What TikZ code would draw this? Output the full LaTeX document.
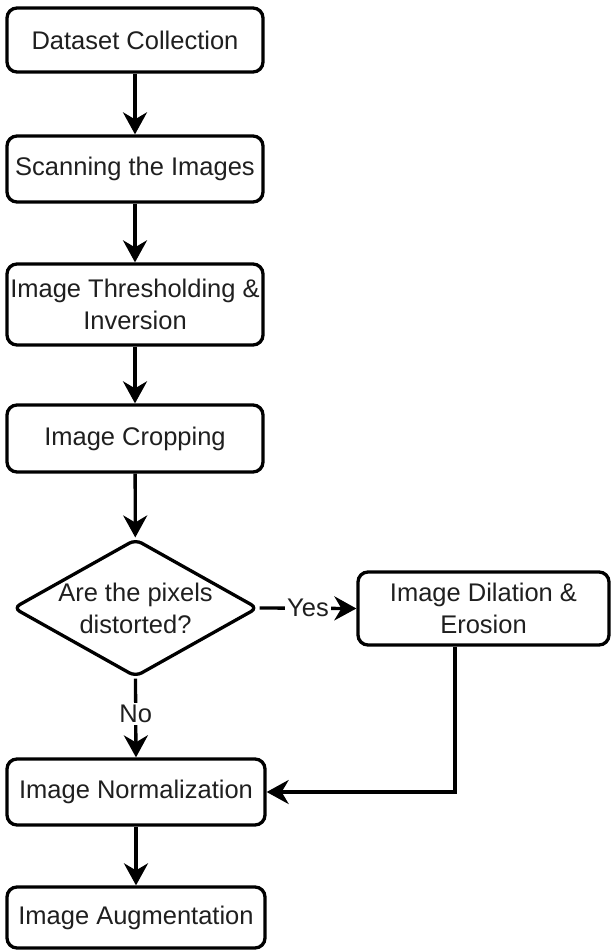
\documentclass[tikz,border=0pt]{standalone}
\usepackage{fontspec}
\setmainfont{Liberation Sans}
\usetikzlibrary{shapes.geometric,arrows.meta}

\begin{document}
\begin{tikzpicture}[x=1pt,y=-1pt,
  every node/.style={font=\fontsize{25.5}{32}\selectfont, text=black!88, align=center, inner sep=0pt},
  procbox/.style={draw, line width=3.3pt, rounded corners=10pt, minimum width=256pt},
  decision/.style={draw, line width=3.3pt, diamond, rounded corners=7pt, minimum width=245pt, minimum height=138pt},
  arr/.style={line width=3.3pt, -{Stealth[length=22pt,width=24pt,inset=7pt]}},
  lbl/.style={fill=white, inner sep=2pt}
]
\useasboundingbox (0,0) rectangle (612,950);

% main column of processing steps
\node[procbox, minimum height=64pt] (collect) at (135,40) {Dataset Collection};
\node[procbox, minimum height=66pt] (scan) at (135,169) {Scanning the Images};
\node[procbox, minimum height=81pt] (thresh) at (135,304.5) {Image Thresholding \&\\Inversion};
\node[procbox, minimum height=67pt] (crop) at (135,438.5) {Image Cropping};
\node[decision] (check) at (135.5,608) {};
\node (checktext) at (check) {Are the pixels\\distorted?};
\node[procbox, minimum width=251pt, minimum height=73pt] (dilate) at (483.5,608.5) {Image Dilation \&\\Erosion};
\node[procbox, minimum width=258pt, minimum height=66pt] (norm) at (136,792) {Image Normalization};
\node[procbox, minimum width=258pt, minimum height=61pt] (augment) at (136,917.5) {Image Augmentation};

\coordinate (elbow) at (455,792);

% connectors
\draw[arr] (collect) -- (scan);
\draw[arr] (scan) -- (thresh);
\draw[arr] (thresh) -- (crop);
\draw[arr] (crop) -- (check);
\draw[arr] (check.east) -- node[lbl] {Yes} (dilate.west);
\draw[arr] (check.south) -- node[lbl, pos=0.45] {No} (norm.north);
\draw[arr] (elbow |- dilate.south) |- (norm.east);
\draw[arr] (norm) -- (augment);
\end{tikzpicture}
\end{document}
